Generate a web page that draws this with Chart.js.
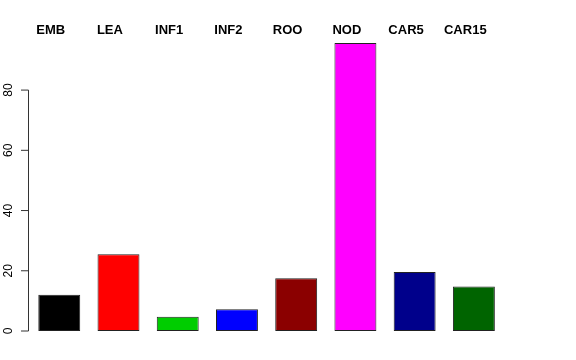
<!DOCTYPE html>
<html>
<head>
<meta charset="utf-8">
<script src="https://cdn.jsdelivr.net/npm/chart.js@4/dist/chart.umd.min.js"></script>
<style>
  html, body { margin: 0; padding: 0; background: #ffffff; }
  #wrap { width: 576px; height: 360px; }
</style>
</head>
<body>
<div id="wrap"><canvas id="c" width="576" height="360"></canvas></div>
<script>
const categories = ["EMB", "LEA", "INF1", "INF2", "ROO", "NOD", "CAR5", "CAR15"];
const values = [12.0, 25.5, 4.7, 7.2, 17.5, 95.6, 19.6, 14.8];
const barColors = ["#000000", "#FF0000", "#00CD00", "#0000FF", "#8B0000", "#FF00FF", "#00008B", "#006400"];
const yTicks = [0, 20, 40, 60, 80];

const yAxisPlugin = {
  id: "rStyleYAxis",
  afterDraw(chart) {
    const ctx = chart.ctx;
    const y = chart.scales.y;
    const axisX = 28.5;
    ctx.save();
    ctx.strokeStyle = "#333333";
    ctx.lineWidth = 1;
    ctx.beginPath();
    ctx.moveTo(axisX, y.getPixelForValue(yTicks[0]));
    ctx.lineTo(axisX, y.getPixelForValue(yTicks[yTicks.length - 1]));
    ctx.stroke();
    ctx.font = "12px 'Liberation Sans', Arial, sans-serif";
    ctx.fillStyle = "#000000";
    ctx.textAlign = "center";
    ctx.textBaseline = "middle";
    yTicks.forEach(v => {
      const py = y.getPixelForValue(v);
      ctx.beginPath();
      ctx.moveTo(axisX - 7.5, py);
      ctx.lineTo(axisX, py);
      ctx.stroke();
      ctx.save();
      ctx.translate(8.7, py);
      ctx.rotate(-Math.PI / 2);
      ctx.fillText(String(v), 0, 0);
      ctx.restore();
    });
    ctx.restore();
  }
};

new Chart(document.getElementById("c"), {
  type: "bar",
  data: {
    labels: categories,
    datasets: [{
      data: values,
      backgroundColor: barColors,
      borderColor: "#222222",
      borderWidth: 1,
      borderSkipped: false,
      categoryPercentage: 1.0,
      barPercentage: 0.708
    }]
  },
  options: {
    responsive: false,
    animation: false,
    devicePixelRatio: 1,
    layout: { padding: { left: 29.65, right: 72.5, top: 20.8, bottom: 29 } },
    plugins: { legend: { display: false }, tooltip: { enabled: false } },
    scales: {
      x: { display: false, grid: { display: false } },
      x2: {
        type: "linear",
        position: "top",
        offset: false,
        bounds: "data",
        min: -0.355,
        max: 7.645,
        grid: { display: false, drawTicks: false, offset: false },
        border: { display: false },
        afterBuildTicks(scale) {
          scale.ticks = categories.map((_, i) => ({ value: i }));
        },
        ticks: {
          autoSkip: false,
          maxRotation: 0,
          minRotation: 0,
          padding: 2,
          color: "#000000",
          font: { family: "'Liberation Sans', Arial, sans-serif", size: 13, weight: "bold" },
          callback: (v) => categories[Math.round(v)]
        }
      },
      y: {
        display: false,
        min: 0,
        max: 96.5
      }
    }
  },
  plugins: [yAxisPlugin]
});
</script>
</body>
</html>
